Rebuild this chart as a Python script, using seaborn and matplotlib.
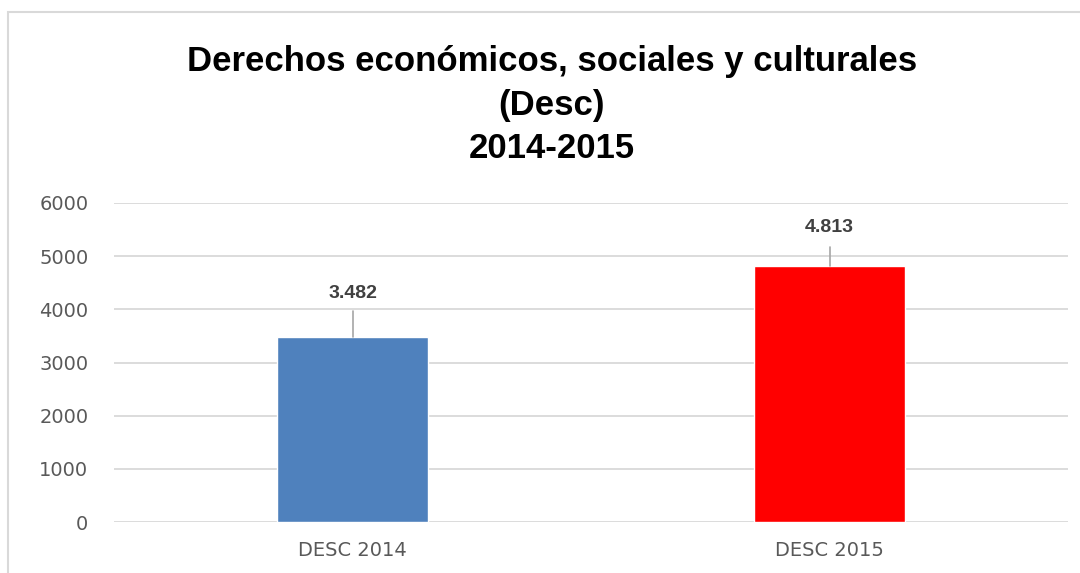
import matplotlib
matplotlib.use("Agg")
import matplotlib.pyplot as plt
from matplotlib.patches import Rectangle
import pandas as pd
import seaborn as sns

categories = ["DESC 2014", "DESC 2015"]
values = [3482, 4813]
bar_colors = ["#4F81BD", "#FF0000"]
yticks = [0, 1000, 2000, 3000, 4000, 5000, 6000]

df = pd.DataFrame({"cat": categories, "val": values})

sns.set_style("white")
plt.rcParams["font.family"] = ["Liberation Sans", "DejaVu Sans"]

fig = plt.figure(figsize=(10.8, 5.73), dpi=100)
ax = fig.add_axes([114 / 1080, 1 - 522 / 573, (1068 - 114) / 1080, (522 - 203) / 573])

sns.barplot(data=df, x="cat", y="val", hue="cat", palette=bar_colors,
            width=0.315, legend=False, ax=ax, saturation=1)

ax.set_xlim(-0.5, 1.5)
ax.set_ylim(0, 6000)
ax.set_yticks(yticks)
ax.set_xlabel("")
ax.set_ylabel("")
ax.yaxis.grid(True, color="#d9d9d9", lw=1.3)
ax.set_axisbelow(True)
for s in ax.spines.values():
    s.set_visible(False)
ax.tick_params(axis="y", length=0, pad=18.5, labelcolor="#595959")
ax.tick_params(axis="x", length=0, pad=14, labelcolor="#595959")
for t in ax.get_yticklabels() + ax.get_xticklabels():
    t.set_fontfamily("DejaVu Sans")
    t.set_fontsize(14)

# etiquetas con linea guia
label_off = [825, 717]
line_off = [490, 360]
for i, v in enumerate(values):
    ax.plot([i, i], [v, v + line_off[i]], color="#a6a6a6", lw=1.2)
    ax.text(i, v + label_off[i], f"{v:,}".replace(",", "."), ha="center", va="center",
            fontsize=14, fontweight="bold", color="#404040")

fig.text(552 / 1080, 1 - 105 / 573, "Derechos económicos, sociales y culturales\n(Desc)\n2014-2015",
         ha="center", va="center", fontsize=25, fontweight="bold", color="black",
         linespacing=1.42)

fig.patches.append(Rectangle((8 / 1080, -0.1), 1.2, 1.1 - 12 / 573, transform=fig.transFigure,
                             fill=False, edgecolor="#d9d9d9", lw=1.5))

fig.savefig("out.png", dpi=100)
